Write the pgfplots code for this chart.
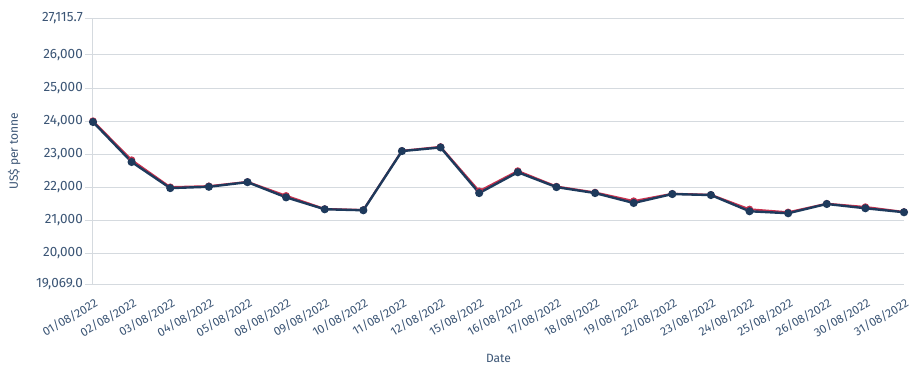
\documentclass[border=0pt]{standalone}
\usepackage{fontspec}
\setmainfont{Fira Sans}
\usepackage{pgfplots}
\pgfplotsset{compat=1.18}
\definecolor{txt}{HTML}{3B5575}
\definecolor{navy}{HTML}{1E3A5C}
\definecolor{redl}{HTML}{C8314E}
\definecolor{gridc}{HTML}{D5DADF}
\begin{document}
\begin{tikzpicture}[x=1pt,y=1pt]
\begin{axis}[
  at={(0,0)}, anchor=south west,
  scale only axis, width=811pt, height=266pt,
  xmin=0, xmax=21, ymin=19069.0, ymax=27115.7,
  scaled y ticks=false,
  xtick={0,...,21},
  xticklabels={01/08/2022,02/08/2022,03/08/2022,04/08/2022,05/08/2022,08/08/2022,09/08/2022,10/08/2022,11/08/2022,12/08/2022,15/08/2022,16/08/2022,17/08/2022,18/08/2022,19/08/2022,22/08/2022,23/08/2022,24/08/2022,25/08/2022,26/08/2022,30/08/2022,31/08/2022},
  x tick label style={rotate=30, anchor=north east, font=\fontsize{12}{14}\selectfont, text=txt, inner sep=1pt, yshift=-4pt, xshift=-1pt},
  ytick={19069.0,20000,21000,22000,23000,24000,25000,26000,27115.7},
  yticklabels={{19,069.0},{20,000},{21,000},{22,000},{23,000},{24,000},{25,000},{26,000},{27,115.7}},
  y tick label style={font=\fontsize{13.5}{15}\selectfont, text=txt, inner sep=2pt},
  ymajorgrids, grid style={gridc, line width=0.8pt},
  axis x line*=bottom, axis y line*=left,
  axis line style={gridc, line width=1pt, -},
  xtick style={draw=none},
  ytick style={gridc, line width=0.8pt},
  tick align=outside, major tick length=8pt,
  xlabel={Date}, ylabel={US\$ per tonne},
  label style={font=\fontsize{12}{14}\selectfont, text=txt},
  xlabel style={at={(axis description cs:0.5,-0.278)}, anchor=center},
  ylabel style={at={(axis description cs:-0.097,0.5)}, anchor=center},
  clip=false,
]
\addplot[redl, line width=2pt, mark=*, mark size=2.6pt, mark options={fill=redl, draw=redl}] coordinates {
(0,24000) (1,22820) (2,22000) (3,22030) (4,22160) (5,21740) (6,21340) (7,21310) (8,23100) (9,23220) (10,21880) (11,22490) (12,22020) (13,21840) (14,21580) (15,21800) (16,21770) (17,21330) (18,21240) (19,21500) (20,21400) (21,21250)};
\addplot[navy, line width=2.4pt, mark=*, mark size=2.8pt, mark options={fill=navy, draw=navy}] coordinates {
(0,23970) (1,22760) (2,21970) (3,22010) (4,22150) (5,21690) (6,21330) (7,21300) (8,23090) (9,23200) (10,21820) (11,22450) (12,22000) (13,21820) (14,21520) (15,21790) (16,21760) (17,21270) (18,21210) (19,21490) (20,21360) (21,21240)};
\end{axis}
\path[use as bounding box] (-93,-91) rectangle (827,284);
\end{tikzpicture}
\end{document}
